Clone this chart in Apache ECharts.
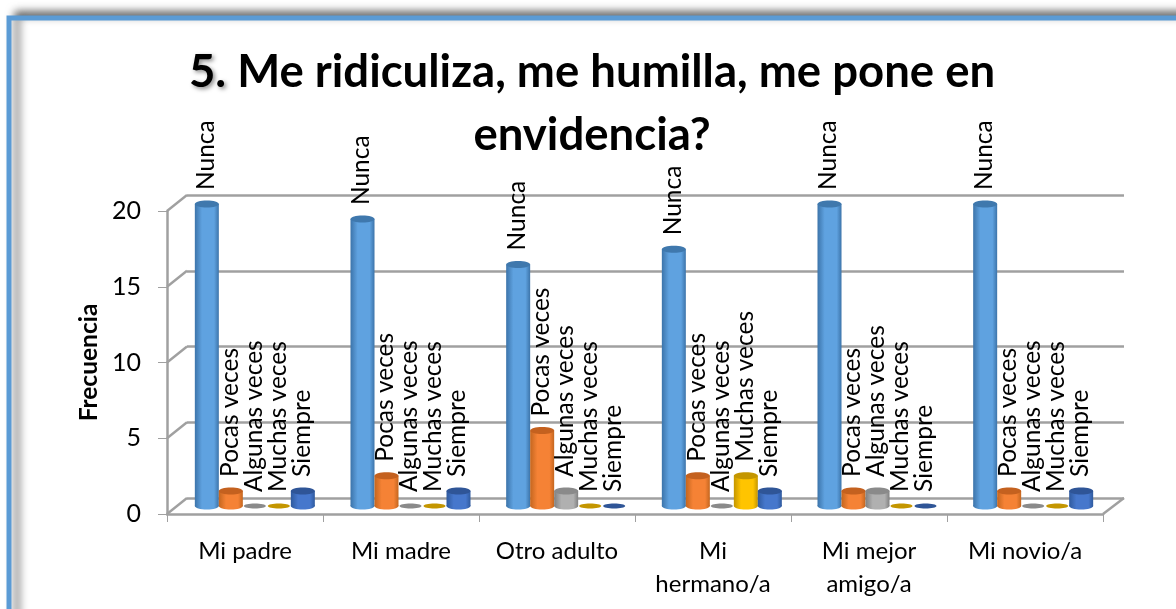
<!DOCTYPE html>
<html>
<head>
    <meta charset="utf-8">
    <title>Me ridiculiza</title>
    <script src="https://cdn.jsdelivr.net/npm/echarts@6/dist/echarts.min.js"></script>
    <style>
        html, body { margin: 0; padding: 0; background: #fff; overflow: hidden; }
        #grafico { width: 1176px; height: 609px; }
    </style>
</head>
<body>
<div id="grafico"></div>
<script type="text/javascript">
    var categorias = ['Mi padre', 'Mi madre', 'Otro adulto', 'Mi\nhermano/a', 'Mi mejor\namigo/a', 'Mi novio/a'];
    var ticks = [0, 5, 10, 15, 20];
    var nombres = ['Nunca', 'Pocas veces', 'Algunas veces', 'Muchas veces', 'Siempre'];
    var nunca = [20, 19, 16, 17, 20, 20];
    var pocas = [1, 2, 5, 2, 1, 1];
    var algunas = [0, 0, 1, 0, 1, 0];
    var muchas = [0, 0, 0, 2, 0, 0];
    var siempre = [1, 1, 0, 1, 0, 1];
    var valores = [nunca, pocas, algunas, muchas, siempre];

    // claro, oscuro, tapa
    var colores = [
        ['#5fa2e0', '#3c74aa', '#3f78ad'],
        ['#f58235', '#c4661f', '#c4611f'],
        ['#b0b0b0', '#808080', '#8a8a8a'],
        ['#ffc400', '#c49600', '#c49600'],
        ['#4677cc', '#2f5a9e', '#2f5597']
    ];

    var fuente = 'Lato, sans-serif';
    var paso = 24;      // separacion entre cilindros
    var radio = 12;
    var alto = 3.5;
    var fondoX = 20;    // desplazamiento de la pared del fondo
    var fondoY = 16;

    var myChart = echarts.init(document.getElementById('grafico'));

    function cilindro(indice) {
        return function (params, api) {
            var punto = api.coord([api.value(0), api.value(1)]);
            var base = api.coord([api.value(0), 0]);
            var x = punto[0] + (indice - 2) * paso;
            var c = colores[indice];
            var hijos = [];
            if (api.value(1) > 0) {
                var cuerpo = {
                    type: 'linearGradient', x: 0, y: 0, x2: 1, y2: 0,
                    colorStops: [
                        {offset: 0, color: c[1]},
                        {offset: 0.3, color: c[0]},
                        {offset: 0.8, color: c[0]},
                        {offset: 1, color: c[1]}
                    ]
                };
                hijos.push({type: 'ellipse', shape: {cx: x, cy: base[1], rx: radio, ry: alto}, style: {fill: cuerpo}});
                hijos.push({type: 'rect', shape: {x: x - radio, y: punto[1], width: radio * 2, height: base[1] - punto[1]}, style: {fill: cuerpo}});
            }
            hijos.push({
                type: 'ellipse',
                shape: {cx: x, cy: punto[1], rx: api.value(1) > 0 ? radio : radio - 1, ry: api.value(1) > 0 ? alto : 2.5},
                style: {fill: c[2]}
            });
            hijos.push({
                type: 'text',
                x: x - 1,
                y: punto[1] - 14,
                rotation: Math.PI / 2,
                style: {
                    text: nombres[indice],
                    font: '24.5px ' + fuente,
                    fill: '#000',
                    align: 'left',
                    verticalAlign: 'middle'
                }
            });
            return {type: 'group', children: hijos};
        };
    }

    function diagonal(params, api) {
        var p = api.coord([0, api.value(0)]);
        var x = 167;
        return {
            type: 'line',
            shape: {x1: x, y1: p[1], x2: x + fondoX, y2: p[1] - fondoY},
            style: {stroke: '#a0a0a0', lineWidth: 2.5}
        };
    }

    function borde(params, api) {
        var p = api.coord([5, 0]);
        var x = p[0] + api.size([1, 0])[0] / 2;
        return {
            type: 'line',
            shape: {x1: x, y1: p[1], x2: x + 21, y2: p[1] - 16},
            style: {stroke: '#a0a0a0', lineWidth: 2.5}
        };
    }

    var series = [];
    for (var i = 0; i < nombres.length; i++) {
        var datos = [];
        for (var j = 0; j < categorias.length; j++) {
            datos.push([j, valores[i][j]]);
        }
        series.push({
            name: nombres[i],
            type: 'custom',
            xAxisIndex: 2,
            yAxisIndex: 2,
            z: 5 + i,
            clip: false,
            renderItem: cilindro(i),
            data: datos
        });
    }
    series.push({
        type: 'custom', xAxisIndex: 1, yAxisIndex: 1, z: 2, clip: false,
        renderItem: diagonal,
        encode: {y: 0},
        data: ticks.map(function (t) { return [t]; })
    });
    series.push({
        type: 'custom', xAxisIndex: 1, yAxisIndex: 1, z: 2, clip: false,
        renderItem: borde,
        data: [[0]]
    });

    var option = {
        animation: false,
        backgroundColor: '#fff',
        title: {
            left: 587,
            top: 36,
            textAlign: 'center',
            text: '{a|5.}{b| Me ridiculiza, me humilla, me pone en}\n{b|envidencia?}',
            textStyle: {
                rich: {
                    a: {
                        fontFamily: fuente, fontWeight: 'bold', fontSize: 45.5, lineHeight: 63, color: '#000',
                        textShadowColor: 'rgba(0,0,0,0.45)', textShadowBlur: 4, textShadowOffsetX: 2, textShadowOffsetY: 2
                    },
                    b: {fontFamily: fuente, fontWeight: 'bold', fontSize: 45.5, lineHeight: 63, color: '#000'}
                }
            }
        },
        graphic: [{
            type: 'rect',
            z: -10,
            shape: {x: 9, y: 18, width: 1300, height: 800},
            style: {
                fill: '#fff', stroke: '#5b9bd5', lineWidth: 5,
                shadowColor: 'rgba(0,0,0,0.55)', shadowBlur: 8, shadowOffsetX: 8, shadowOffsetY: -4
            }
        }],
        grid: [
            {left: 187, width: 937, top: 195, height: 303},
            {left: 167, width: 936, top: 211, height: 303},
            {left: 177, width: 934, top: 204, height: 302}
        ],
        xAxis: [
            {gridIndex: 0, type: 'category', data: categorias, show: false},
            {
                gridIndex: 1,
                type: 'category',
                data: categorias,
                axisLine: {show: true, lineStyle: {color: '#a0a0a0', width: 2.5}},
                axisTick: {show: true, length: 8, lineStyle: {color: '#a0a0a0', width: 1}},
                axisLabel: {color: '#000', fontFamily: fuente, fontSize: 24, margin: 21, lineHeight: 33, interval: 0}
            },
            {gridIndex: 2, type: 'category', data: categorias, show: false}
        ],
        yAxis: [
            {
                gridIndex: 0, type: 'value', min: 0, max: 20, interval: 5,
                axisLine: {show: false}, axisTick: {show: false}, axisLabel: {show: false},
                splitLine: {show: true, lineStyle: {color: '#a0a0a0', width: 2.5}}
            },
            {
                gridIndex: 1,
                type: 'value',
                min: 0, max: 20, interval: 5,
                name: 'Frecuencia',
                nameLocation: 'middle',
                nameGap: 59,
                nameRotate: 90,
                nameTextStyle: {color: '#000', fontFamily: fuente, fontWeight: 'bold', fontSize: 24.5},
                axisLine: {show: true, lineStyle: {color: '#a0a0a0', width: 2.5}},
                axisTick: {show: true, length: 9, lineStyle: {color: '#a0a0a0', width: 1}},
                axisLabel: {color: '#000', fontFamily: fuente, fontSize: 25, margin: 26},
                splitLine: {show: false}
            },
            {gridIndex: 2, type: 'value', min: 0, max: 20, show: false, splitLine: {show: false}}
        ],
        series: series
    };

    myChart.setOption(option);
</script>
</body>
</html>
